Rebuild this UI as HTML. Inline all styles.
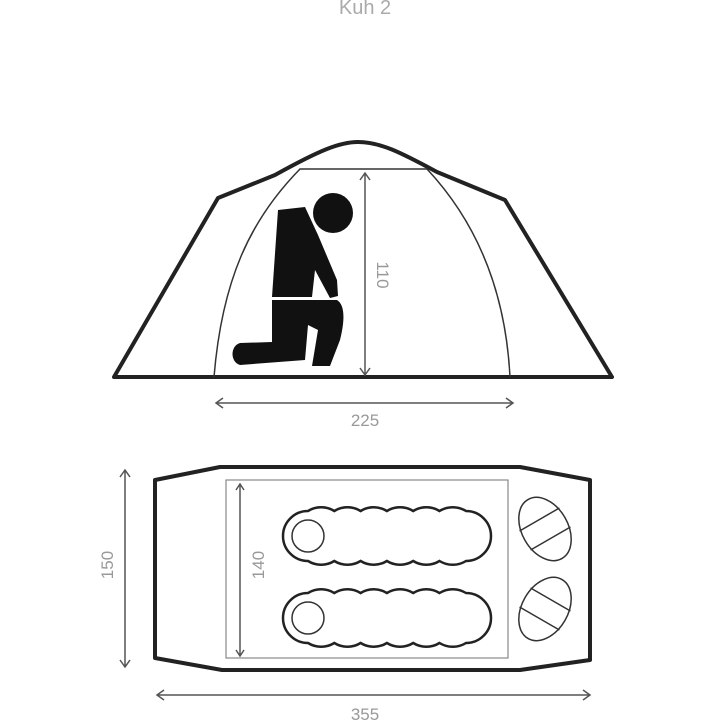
<!DOCTYPE html><html><head><style>body{margin:0;background:#fff}svg{display:block}</style></head><body>
<svg width="720" height="720" viewBox="0 0 720 720" xmlns="http://www.w3.org/2000/svg" font-family="Liberation Sans, sans-serif">
<text x="365" y="14" font-size="20" fill="#aaa" text-anchor="middle">Kuh 2</text>
<g fill="none" stroke="#222" stroke-width="4" stroke-linejoin="round">
<path d="M114 377 L218 198 L275 175 C320 150 340 142 358 142 C380 142 400 152 437 172 L505 200 L612 377 Z"/>
<path d="M155 480 L220 467 L520 467 L590 480 L590 660 L520 670 L222 670 L155 658 Z"/>
</g>
<path d="M214 377 C222 280 250 220 300 169 L427 169 C470 215 505 280 510 377" fill="none" stroke="#333" stroke-width="1.5"/>
<g fill="#111">
<circle cx="333" cy="213" r="20"/>
<path d="M278 210 L305 207 L318 235 L337 280 L338 296 L330 298 L315 270 L312 297 L272 297 Z"/>
<path d="M272 300 L337 300 C345 305 345 320 340 340 L330 366 L312 366 L318 330 L308 325 L305 360 L240 365 C230 362 230 346 240 343 L272 342 Z"/>
</g>
<g fill="none" stroke="#555" stroke-width="1.5">
<path d="M365 173 V375 M360 180 L365 173 L370 180 M360 368 L365 375 L370 368"/>
<path d="M216 403 H513 M223 398 L216 403 L223 408 M506 398 L513 403 L506 408"/>
<path d="M125 470 V667 M120 477 L125 470 L130 477 M120 660 L125 667 L130 660"/>
<path d="M157 695 H590 M164 690 L157 695 L164 700 M583 690 L590 695 L583 700"/>
<path d="M240 484 V656 M236 490 L240 484 L244 490 M236 650 L240 656 L244 650"/>
</g>
<rect x="226" y="480" width="282" height="178" fill="none" stroke="#888" stroke-width="1.2"/>
<g fill="#999" font-size="17">
<text x="365" y="426" text-anchor="middle">225</text>
<text x="365" y="720" text-anchor="middle">355</text>
<text transform="translate(377,275) rotate(90)" text-anchor="middle">110</text>
<text transform="translate(113,565) rotate(-90)" text-anchor="middle">150</text>
<text transform="translate(264,565) rotate(-90)" text-anchor="middle">140</text>
</g>
<g fill="none" stroke="#222" stroke-width="2.5">
<path d="M308 511 a25 25 0 0 1 26.3 0 a25 25 0 0 1 26.3 0 a25 25 0 0 1 26.3 0 a25 25 0 0 1 26.3 0 a25 25 0 0 1 26.3 0 a25 25 0 0 1 26.5 0 A25 25 0 0 1 466 561 a25 25 0 0 1 -26.5 0 a25 25 0 0 1 -26.3 0 a25 25 0 0 1 -26.3 0 a25 25 0 0 1 -26.3 0 a25 25 0 0 1 -26.3 0 a25 25 0 0 1 -26.3 0 A25 25 0 0 1 308 511 Z"/>
<path d="M308 593 a25 25 0 0 1 26.3 0 a25 25 0 0 1 26.3 0 a25 25 0 0 1 26.3 0 a25 25 0 0 1 26.3 0 a25 25 0 0 1 26.3 0 a25 25 0 0 1 26.5 0 A25 25 0 0 1 466 643 a25 25 0 0 1 -26.5 0 a25 25 0 0 1 -26.3 0 a25 25 0 0 1 -26.3 0 a25 25 0 0 1 -26.3 0 a25 25 0 0 1 -26.3 0 a25 25 0 0 1 -26.3 0 A25 25 0 0 1 308 593 Z"/>
</g>
<g fill="none" stroke="#333" stroke-width="1.5">
<circle cx="308" cy="536" r="16"/><circle cx="308" cy="618" r="16"/>
<g transform="translate(545,529) rotate(-30)"><ellipse rx="23" ry="34"/><path d="M-23 -11 H23 M-23 11 H23"/></g>
<g transform="translate(545,609) rotate(30)"><ellipse rx="23" ry="34"/><path d="M-23 -11 H23 M-23 11 H23"/></g>
</g>
</svg></body></html>
